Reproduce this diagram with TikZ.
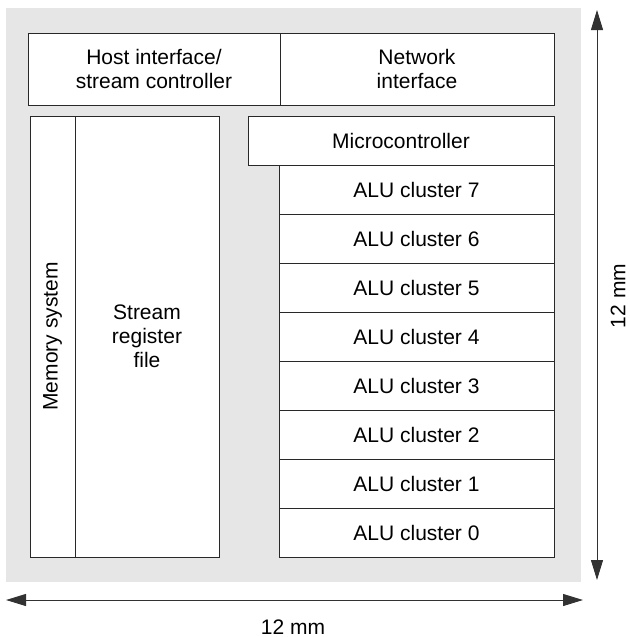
\documentclass[tikz,border=0pt]{standalone}
\usepackage{fontspec}
\setmainfont{Liberation Sans}
\usetikzlibrary{arrows.meta}

\tikzset{every picture/.style={line width=0.75pt}}
\tikzset{
  blk/.style={draw={rgb, 255:red, 40; green, 40; blue, 40}, fill=white, inner sep=0pt, align=center, font=\fontsize{15.75}{18}\selectfont},
  dimtxt/.style={inner sep=0.75pt, font=\fontsize{15.75}{18}\selectfont},
  dimarrow/.style={draw={rgb, 255:red, 50; green, 50; blue, 50}, {Triangle[length=15pt,width=9pt]}-{Triangle[length=15pt,width=9pt]}},
}

\begin{document}
\begin{tikzpicture}[x=0.75pt,y=0.75pt,yscale=-1,xscale=1]
    \useasboundingbox (0,0) rectangle (630,637);

    %Shape: Rectangle [chip area]
    \fill [color={rgb, 255:red, 230; green, 230; blue, 230 }] (6,8) rectangle (581,582) ;

    % top row
    \node [blk, minimum width=189pt, minimum height=54pt] (host) at (154,69) {Host interface/\\stream controller};
    \node [blk, minimum width=205.5pt, minimum height=54pt] (net) at (417,69) {Network\\interface};

    % memory side
    \node [blk, rotate=90, minimum width=330.75pt, minimum height=33.75pt] (mem) at (52.5,336.5) {Memory system};
    \node [blk, minimum width=108pt, minimum height=330.75pt] (srf) at (147,336.5) {Stream\\register\\file};

    % clusters
    \node [blk, minimum width=229.5pt, minimum height=36.75pt] (uc) at (401,140.5) {Microcontroller};
    \foreach \i in {7,...,0}
        \node [blk, minimum width=206.25pt, minimum height=36.75pt] (alu\i) at (416.5,{189.5+49*(7-\i)}) {ALU cluster \i};

    % dimension arrows
    \coordinate (vtop) at (597,10);
    \coordinate (vbot) at (597,580);
    \coordinate (hleft) at (6,600);
    \coordinate (hright) at (583,600);
    \draw [dimarrow] (vtop) -- (vbot) ;
    \draw [dimarrow] (hleft) -- (hright) ;

    % Text Node
    \node [dimtxt, rotate=90] (vdim) at (618,296) {12 mm};
    % Text Node
    \node [dimtxt] (hdim) at (293,627) {12 mm};

\end{tikzpicture}
\end{document}
